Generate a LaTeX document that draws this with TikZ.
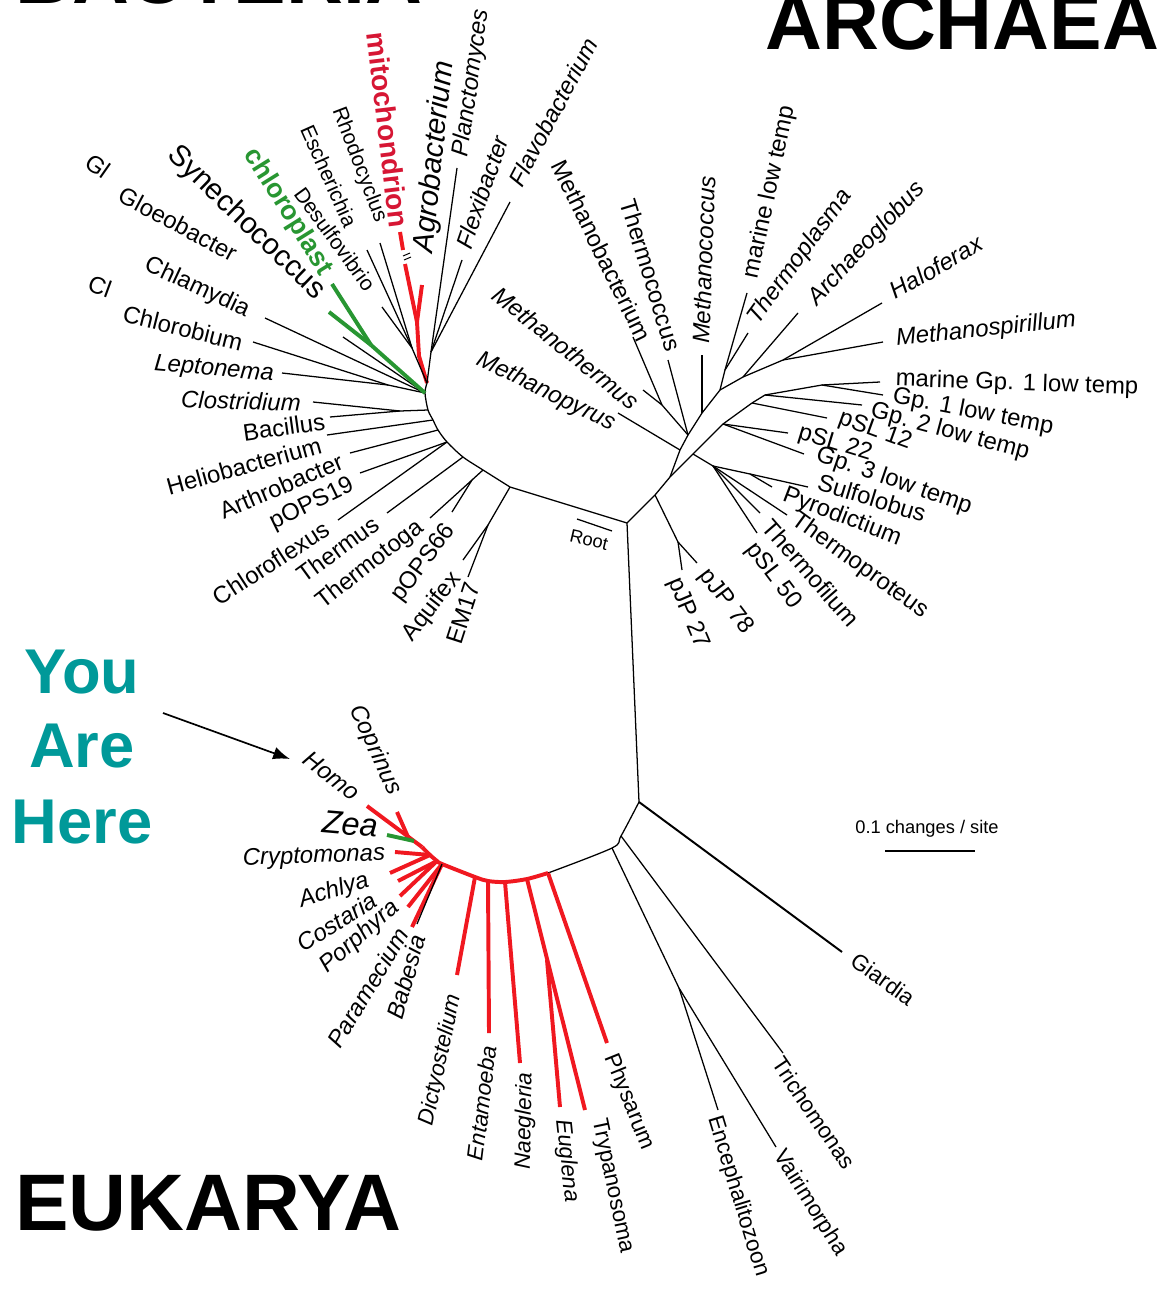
\documentclass[tikz,border=0pt]{standalone}
\usepackage{fontspec}
\setmainfont{Liberation Sans}
\usepackage{tikz}
\usetikzlibrary{arrows.meta}
\definecolor{treeRed}{RGB}{240,24,32}
\definecolor{mitoRed}{RGB}{214,22,52}
\definecolor{plastGreen}{RGB}{40,150,50}
\definecolor{hereTeal}{RGB}{0,153,153}
\tikzset{
  branch/.style={draw=black, line width=0.9pt},
  thickbranch/.style={draw=black, line width=1.4pt},
  redbranch/.style={draw=treeRed, line width=2.8pt},
  greenbranch/.style={draw=plastGreen, line width=2.8pt},
  taxon/.style={inner sep=0pt, font=\fontsize{17}{19}\selectfont},
  taxonit/.style={inner sep=0pt, font=\fontsize{17}{19}\selectfont\itshape},
  smalltaxon/.style={inner sep=0pt, font=\fontsize{15}{17}\selectfont},
  eutaxon/.style={inner sep=0pt, font=\fontsize{16}{18}\selectfont},
  eutaxonit/.style={inner sep=0pt, font=\fontsize{16}{18}\selectfont\itshape},
  bigtaxon/.style={inner sep=0pt, font=\fontsize{21}{23}\selectfont},
  bigtaxonit/.style={inner sep=0pt, font=\fontsize{21}{23}\selectfont\itshape},
  organelle/.style={inner sep=0pt, text=mitoRed, font=\fontsize{20}{22}\selectfont\bfseries},
  plastid/.style={inner sep=0pt, text=plastGreen, font=\fontsize{19}{21}\selectfont\bfseries},
  smalllabel/.style={inner sep=0pt, font=\fontsize{13}{15}\selectfont},
  domaintitle/.style={inner sep=0pt, font=\fontsize{56}{60}\selectfont\bfseries},
  here/.style={inner sep=0pt, text=hereTeal, font=\fontsize{45}{50}\selectfont\bfseries},
  pointer/.style={-{Latex[length=12pt,width=9pt]}, line width=1.2pt}
}
\begin{document}
\begin{tikzpicture}[x=0.025cm, y=-0.025cm]
  \useasboundingbox (0,0) rectangle (1159,1294);

  \node[domaintitle, anchor=base west] (bacteria) at (15,4) {BACTERIA};
  \node[domaintitle, anchor=base west] (archaea) at (765,50) {ARCHAEA};
  \node[domaintitle, anchor=base west, font=\fontsize{57}{60}\selectfont\bfseries] (eukarya) at (15,1230) {EUKARYA};
  \node[here, anchor=base] (hereYou) at (82,693) {You};
  \node[here, anchor=base] (hereAre) at (82,767) {Are};
  \node[here, anchor=base] (hereHere) at (82,843) {Here};

  % backbone
  \coordinate (root) at (627,523);
  \coordinate (bTop) at (427,383);
  \coordinate (bHub) at (425,393);
  \coordinate (bA) at (428,410);
  \coordinate (bB) at (433,420);
  \coordinate (bC) at (438,430);
  \coordinate (bD) at (447,442);
  \coordinate (bE) at (463,457);
  \coordinate (bF) at (483,470);
  \coordinate (bG) at (510,487);
  \draw[branch] plot[smooth] coordinates {(bTop) (bHub) (bA) (bB) (bC) (bD) (bE) (bF) (bG)} -- (root);

  % bacteria tips and joins
  \coordinate (tMito) at (400,232);
  \coordinate (mitoCutA) at (403,250);
  \coordinate (mitoCutB) at (405,264);
  \coordinate (jAlpha) at (417,322);
  \coordinate (tAgro) at (422,285);
  \coordinate (jAlphaLow) at (419,356);
  \coordinate (tRhodo) at (380,243);
  \coordinate (tEsche) at (367,250);
  \coordinate (tDesul) at (382,307);
  \coordinate (jProteo) at (412,348);
  \coordinate (tPlanc) at (457,168);
  \coordinate (tFlexi) at (462,260);
  \coordinate (tFlavo) at (510,202);
  \coordinate (jPlanc) at (431,352);
  \coordinate (tChloro) at (332,284);
  \coordinate (tSyne) at (329,312);
  \coordinate (jCyano) at (371,345);
  \coordinate (tGloeo) at (343,337);
  \coordinate (tChlam) at (265,318);
  \coordinate (tChlor) at (253,342);
  \coordinate (tLepto) at (282,373);
  \coordinate (jLepto) at (388,385);
  \coordinate (tClost) at (313,402);
  \coordinate (tBacil) at (330,417);
  \coordinate (jFirm) at (400,411);
  \coordinate (tHelio) at (327,435);
  \coordinate (tArthr) at (350,453);
  \coordinate (tPops19) at (360,473);
  \coordinate (tChlfx) at (338,520);
  \coordinate (tThrms) at (387,513);
  \coordinate (tThtga) at (430,518);
  \coordinate (tPops66) at (452,512);
  \coordinate (jToga) at (472,480);
  \coordinate (tAquif) at (463,560);
  \coordinate (tEm17) at (468,577);
  \coordinate (jAquif) at (488,525);

  \draw[redbranch] (tMito) -- (mitoCutA);
  \draw[redbranch] (mitoCutB) -- (jAlpha) -- (jAlphaLow) -- (bTop);
  \draw[redbranch] (tAgro) -- (jAlpha);
  \draw[branch, line width=0.7pt] (403,256) -- (410,253) (404,260) -- (411,257);
  \draw[branch] (tRhodo) -- (jProteo);
  \draw[branch] (tEsche) -- (jProteo);
  \draw[branch] (tDesul) -- (jProteo);
  \draw[branch] (jProteo) -- (bTop);
  \draw[branch] (tPlanc) -- (jPlanc);
  \draw[branch] (tFlexi) -- (jPlanc);
  \draw[branch] (tFlavo) -- (jPlanc);
  \draw[branch] (jPlanc) -- (bTop);
  \draw[branch] (tGloeo) -- (bHub);
  \draw[branch] (tChlam) -- (bHub);
  \draw[branch] (tChlor) -- (jLepto);
  \draw[branch] (tLepto) -- (jLepto);
  \draw[branch] (jLepto) -- (bHub);
  \draw[greenbranch] (tChloro) -- (jCyano);
  \draw[greenbranch] (tSyne) -- (jCyano);
  \draw[greenbranch] (jCyano) -- (bHub);
  \draw[branch] (tClost) -- (jFirm);
  \draw[branch] (tBacil) -- (jFirm);
  \draw[branch] (jFirm) -- (bA);
  \draw[branch] (tHelio) -- (bB);
  \draw[branch] (tArthr) -- (bC);
  \draw[branch] (tPops19) -- (bD);
  \draw[branch] (tChlfx) -- (bD);
  \draw[branch] (tThrms) -- (bE);
  \draw[branch] (tThtga) -- (jToga) -- (bF);
  \draw[branch] (tPops66) -- (jToga);
  \draw[branch] (tAquif) -- (jAquif) -- (bG);
  \draw[branch] (tEm17) -- (jAquif);

  % bacteria labels
  \node[taxon, rotate=-35] (glCut) at (98,166) {Gl};
  \node[taxon, rotate=-28] (gloeobacter) at (178,224) {Gloeobacter};
  \node[taxon, rotate=-20] (clCut) at (100,286) {Cl};
  \node[taxon, rotate=-25] (chlamydia) at (197,288) {Chlamydia};
  \node[taxon, rotate=-14] (chlorobium) at (183,328) {Chlorobium};
  \node[taxonit, rotate=-5] (leptonema) at (214,370) {Leptonema};
  \node[taxonit, rotate=-2] (clostridium) at (241,401) {Clostridium};
  \node[taxon, rotate=8] (bacillus) at (284,427) {Bacillus};
  \node[taxon, rotate=15.5] (heliobacterium) at (244,466) {Heliobacterium};
  \node[taxon, rotate=23] (arthrobacter) at (281,486) {Arthrobacter};
  \node[taxon, rotate=26] (pops19) at (312,504) {pOPS19};
  \node[taxon, rotate=33] (chloroflexus) at (271,563) {Chloroflexus};
  \node[taxon, rotate=36] (thermus) at (338,549) {Thermus};
  \node[taxon, rotate=38] (thermotoga) at (370,565) {Thermotoga};
  \node[taxon, rotate=53] (pops66) at (424,563) {pOPS66};
  \node[taxon, rotate=52] (aquifex) at (432,607) {Aquifex};
  \node[taxon, rotate=72] (em17) at (463,613) {EM17};
  \node[bigtaxon, rotate=-44] (synechococcus) at (246,223) {Synechococcus};
  \node[plastid, rotate=-58] (chloroplast) at (288,212) {chloroplast};
  \node[smalltaxon, rotate=-66] (escherichia) at (329,176) {Escherichia};
  \node[smalltaxon, rotate=-54] (desulfovibrio) at (335,239) {Desulfovibrio};
  \node[smalltaxon, rotate=-69] (rhodocyclus) at (359,165) {Rhodocyclus};
  \node[organelle, rotate=-83] (mitochondrion) at (388,130) {mitochondrion};
  \node[bigtaxonit, rotate=84] (agrobacterium) at (435,157) {Agrobacterium};
  \node[taxonit, rotate=82] (planctomyces) at (472,83) {Planctomyces};
  \node[taxonit, rotate=71] (flexibacter) at (482,192) {Flexibacter};
  \node[taxonit, rotate=62] (flavobacterium) at (553,112) {Flavobacterium};

  % archaea
  \coordinate (aA) at (655,495);
  \coordinate (aB) at (670,477);
  \coordinate (jPjp) at (678,542);
  \coordinate (tPjp78) at (697,563);
  \coordinate (tPjp27) at (682,570);
  \coordinate (mA) at (680,450);
  \coordinate (mB) at (688,435);
  \coordinate (mC) at (702,413);
  \coordinate (mD) at (720,390);
  \coordinate (tMpyr) at (618,413);
  \coordinate (tMbac) at (633,337);
  \coordinate (jMbac) at (662,405);
  \coordinate (tMthe) at (643,390);
  \coordinate (tTcoc) at (668,360);
  \coordinate (tMcoc) at (702,355);
  \coordinate (jTplas) at (725,370);
  \coordinate (tMarLow) at (747,293);
  \coordinate (tTplas) at (748,333);
  \coordinate (jHalo) at (743,377);
  \coordinate (jHaloB) at (783,360);
  \coordinate (tArchg) at (798,313);
  \coordinate (tHalof) at (882,303);
  \coordinate (tMspir) at (883,342);
  \coordinate (cA) at (693,454);
  \coordinate (cB) at (723,424);
  \coordinate (cC) at (752,403);
  \coordinate (cD) at (765,395);
  \coordinate (cE) at (822,385);
  \coordinate (jCren) at (713,466);
  \coordinate (jSulfo) at (750,474);
  \coordinate (tSulfo) at (808,487);
  \coordinate (tPyrod) at (772,487);
  \coordinate (tTprot) at (787,515);
  \coordinate (tTfil) at (760,513);
  \coordinate (tPsl50) at (757,533);
  \coordinate (tPsl22) at (788,433);
  \coordinate (tGp3) at (804,454);
  \coordinate (tPsl12) at (827,418);
  \coordinate (tGp2) at (862,405);
  \coordinate (tMarGp1) at (880,382);
  \coordinate (tGp1) at (883,395);

  \draw[branch] (root) -- (aA) -- (aB);
  \draw[branch] (aA) -- (jPjp) -- (tPjp78);
  \draw[branch] (jPjp) -- (tPjp27);
  \draw[branch] (aB) -- (mA) -- (mB) -- (mC) -- (mD);
  \draw[branch] (tMpyr) -- (mA);
  \draw[branch] (tMbac) -- (jMbac) -- (mB);
  \draw[branch] (tMthe) -- (jMbac);
  \draw[branch] (tTcoc) -- (mB);
  \draw[branch] (tMcoc) -- (mC);
  \draw[branch] (mD) -- (jTplas) -- (tMarLow);
  \draw[branch] (jTplas) -- (tTplas);
  \draw[branch] (mD) -- (jHalo) -- (jHaloB) -- (tHalof);
  \draw[branch] (jHalo) -- (tArchg);
  \draw[branch] (jHaloB) -- (tMspir);
  \draw[branch] (aB) -- (cA) -- (cB) -- (cC) -- (cD) -- (cE);
  \draw[branch] (cA) -- (jCren);
  \draw[branch] (jCren) -- (jSulfo) -- (tSulfo);
  \draw[branch] (jSulfo) -- (tPyrod);
  \draw[branch] (jCren) -- (tTprot);
  \draw[branch] (jCren) -- (tTfil);
  \draw[branch] (jCren) -- (tPsl50);
  \draw[branch] (cB) -- (tPsl22);
  \draw[branch] (cB) -- (tGp3);
  \draw[branch] (cC) -- (tPsl12);
  \draw[branch] (cD) -- (tGp2);
  \draw[branch] (cE) -- (tMarGp1);
  \draw[branch] (cE) -- (tGp1);

  % archaea labels
  \node[taxonit, rotate=-26] (methanopyrus) at (546,392) {Methanopyrus};
  \node[taxonit, rotate=-39] (methanothermus) at (566,348) {Methanothermus};
  \node[taxon, rotate=-64] (methanobacterium) at (602,251) {Methanobacterium};
  \node[taxon, rotate=-73] (thermococcus) at (651,275) {Thermococcus};
  \node[taxonit, rotate=88] (methanococcus) at (704,260) {Methanococcus};
  \node[taxon, rotate=78] (marineLow) at (770,192) {marine low temp};
  \node[taxonit, rotate=54] (thermoplasma) at (800,257) {Thermoplasma};
  \node[taxonit, rotate=47] (archaeoglobus) at (867,244) {Archaeoglobus};
  \node[taxonit, rotate=30] (haloferax) at (936,267) {Haloferax};
  \node[taxonit, rotate=6] (methanospirillum) at (986,330) {Methanospirillum};
  \node[taxon, rotate=-2] (marineGpOne) at (1017,384) {marine Gp. 1 low temp};
  \node[taxon, rotate=-11] (gpOne) at (973,412) {Gp. 1 low temp};
  \node[taxon, rotate=-15] (gpTwo) at (950,432) {Gp. 2 low temp};
  \node[taxon, rotate=-20] (psl12) at (875,431) {pSL 12};
  \node[taxon, rotate=-17] (psl22) at (835,444) {pSL 22};
  \node[taxon, rotate=-19] (gpThree) at (894,481) {Gp. 3 low temp};
  \node[taxon, rotate=-17] (sulfolobus) at (872,498) {Sulfolobus};
  \node[taxon, rotate=-21] (pyrodictium) at (842,517) {Pyrodictium};
  \node[taxon, rotate=-36] (thermoproteus) at (860,566) {Thermoproteus};
  \node[taxon, rotate=-49] (thermofilum) at (811,573) {Thermofilum};
  \node[taxon, rotate=-53] (psl50) at (773,576) {pSL 50};
  \node[taxon, rotate=-53] (pjp78) at (726,602) {pJP 78};
  \node[taxon, rotate=-67] (pjp27) at (688,613) {pJP 27};
  \coordinate (rootBarA) at (577,519);
  \coordinate (rootBarB) at (612,531);
  \draw[branch] (rootBarA) -- (rootBarB);
  \node[smalllabel, rotate=-13] (rootLabel) at (589,540) {Root};

  % eukarya
  \coordinate (eA) at (639,802);
  \coordinate (eB) at (621,836);
  \coordinate (eC) at (612,848);
  \coordinate (eD) at (548,873);
  \coordinate (eE) at (527,879);
  \coordinate (eF) at (505,882);
  \coordinate (eG) at (488,881);
  \coordinate (eH) at (475,877);
  \coordinate (eI) at (442,864);
  \coordinate (eJ) at (437,861);
  \coordinate (eK) at (430,855);
  \coordinate (eL) at (422,847);
  \coordinate (tGiard) at (842,952);
  \coordinate (tTrich) at (783,1053);
  \coordinate (jMicro) at (679,988);
  \coordinate (tEnceph) at (718,1110);
  \coordinate (tVairi) at (776,1147);
  \coordinate (tPhys) at (607,1043);
  \coordinate (jEugl) at (547,960);
  \coordinate (tEugl) at (560,1107);
  \coordinate (tTrypa) at (585,1110);
  \coordinate (tNaeg) at (520,1063);
  \coordinate (tEntam) at (489,1033);
  \coordinate (tDicty) at (457,975);
  \coordinate (tHomo) at (367,806);
  \coordinate (tCopri) at (397,812);
  \coordinate (jCopri) at (408,837);
  \coordinate (tZea) at (387,835);
  \coordinate (jZea) at (414,841);
  \coordinate (tCrypt) at (395,852);
  \coordinate (tAchly) at (390,873);
  \coordinate (tCosta) at (398,881);
  \coordinate (tRedD) at (400,896);
  \coordinate (tPorph) at (408,907);
  \coordinate (tBabes) at (412,927);
  \coordinate (tParam) at (417,924);

  \draw[branch] (root) -- (eA);
  \draw[thickbranch] (eA) -- (tGiard);
  \draw[branch] plot[smooth] coordinates {(eA) (eB) (eC) (eD)};
  \draw[branch] (eB) -- (tTrich);
  \draw[branch] (eC) -- (jMicro) -- (tEnceph);
  \draw[branch] (jMicro) -- (tVairi);
  \draw[redbranch] plot[smooth] coordinates {(eD) (eE) (eF) (eG) (eH) (eI) (eJ) (eK) (eL)};
  \draw[redbranch] (eD) -- (tPhys);
  \draw[redbranch] (eE) -- (tTrypa);
  \draw[redbranch] (jEugl) -- (tEugl);
  \draw[redbranch] (eF) -- (tNaeg);
  \draw[redbranch] (eG) -- (tEntam);
  \draw[redbranch] (eH) -- (tDicty);
  \draw[redbranch] (tHomo) -- (eL);
  \draw[redbranch] (tCopri) -- (jCopri);
  \draw[greenbranch] (tZea) -- (jZea);
  \draw[redbranch] (tCrypt) -- (eK);
  \draw[redbranch] (tAchly) -- (eK);
  \draw[redbranch] (tCosta) -- (eJ);
  \draw[redbranch] (tRedD) -- (eJ);
  \draw[redbranch] (tPorph) -- (eI);
  \draw[redbranch] (tBabes) -- (eI);
  \draw[branch] (tParam) -- (eI);

  % eukarya labels
  \node[taxonit, rotate=-65] (coprinus) at (375,750) {Coprinus};
  \node[taxonit, rotate=-38] (homo) at (332,776) {Homo};
  \node[inner sep=0pt, font=\fontsize{23}{25}\selectfont\itshape, rotate=-5] (zea) at (350,824) {Zea};
  \node[taxonit, rotate=2] (cryptomonas) at (314,857) {Cryptomonas};
  \node[taxonit, rotate=17] (achlya) at (334,891) {Achlya};
  \node[taxonit, rotate=32] (costaria) at (337,922) {Costaria};
  \node[taxonit, rotate=41] (porphyra) at (360,937) {Porphyra};
  \node[taxonit, rotate=59] (paramecium) at (368,988) {Paramecium};
  \node[taxonit, rotate=74] (babesia) at (406,977) {Babesia};
  \node[eutaxonit, rotate=78] (dictyostelium) at (441,1060) {Dictyostelium};
  \node[eutaxonit, rotate=83] (entamoeba) at (482,1103) {Entamoeba};
  \node[eutaxonit, rotate=89] (naegleria) at (525,1121) {Naegleria};
  \node[eutaxonit, rotate=-84] (euglena) at (567,1161) {Euglena};
  \node[eutaxon, rotate=-78] (trypanosoma) at (612,1186) {Trypanosoma};
  \node[eutaxon, rotate=-68] (physarum) at (629,1102) {Physarum};
  \node[eutaxon, rotate=-73] (encephalitozoon) at (738,1196) {Encephalitozoon};
  \node[eutaxon, rotate=-58] (vairimorpha) at (810,1203) {Vairimorpha};
  \node[eutaxon, rotate=-56] (trichomonas) at (814,1113) {Trichomonas};
  \node[eutaxon, rotate=-36] (giardia) at (883,979) {Giardia};

  \node[smalllabel] (scaleLabel) at (927,829) {0.1 changes / site};
  \coordinate (barL) at (885,851);
  \coordinate (barR) at (975,851);
  \draw[branch] (barL) -- (barR);

  \coordinate (arrowTail) at (163,713);
  \coordinate (arrowHead) at (290,759);
  \draw[pointer] (arrowTail) -- (arrowHead);
\end{tikzpicture}
\end{document}
